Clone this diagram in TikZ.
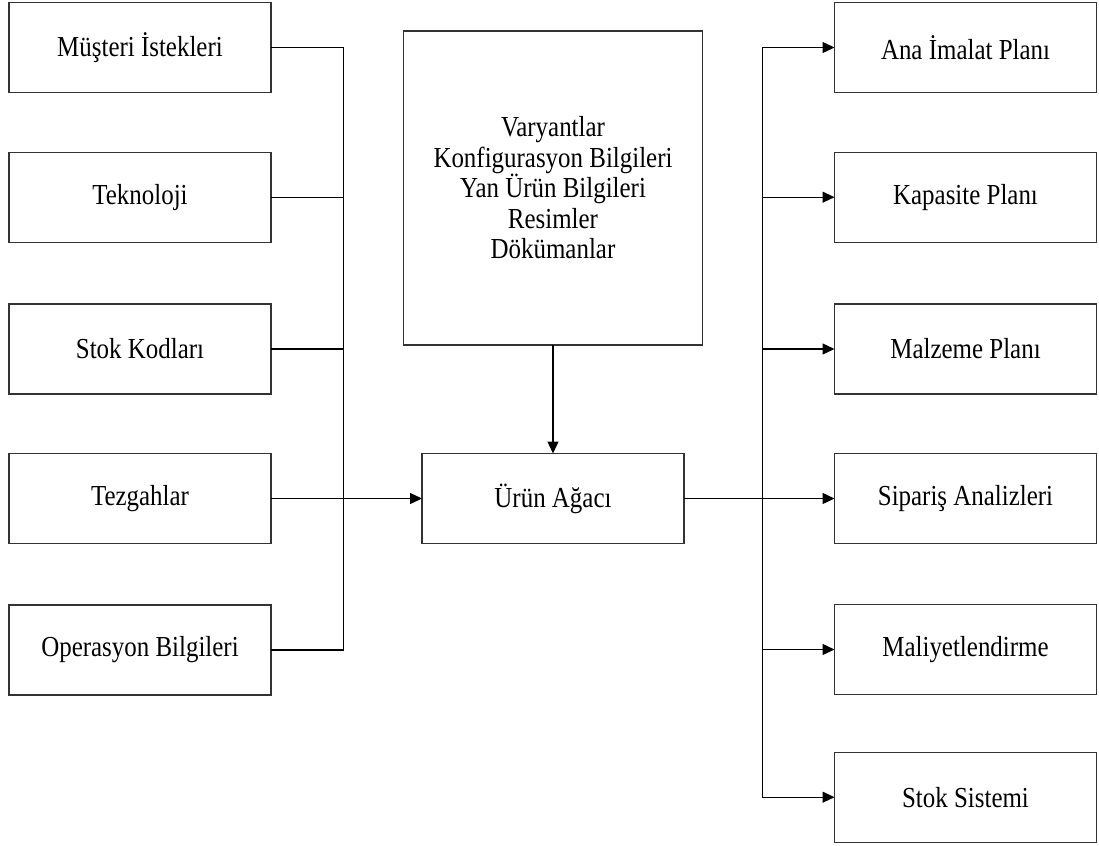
\documentclass[tikz,border=0pt]{standalone}
\usepackage{fontspec}
\setmainfont{Liberation Serif}[FakeStretch=0.86]
\usetikzlibrary{arrows.meta}
\begin{document}
\begin{tikzpicture}[x=1pt,y=-1pt,
  box/.style={draw=black!80, line width=1.3pt, minimum width=262pt, minimum height=90pt,
              inner sep=0pt, outer sep=0pt, align=center,
              font=\fontsize{29}{30.5}\selectfont},
  link/.style={line width=1.3pt, black},
  arr/.style={link, -{Triangle[length=12pt,width=11pt]}}]
  \useasboundingbox (0,0) rectangle (1099,845);

  % input boxes (left column)
  \node[box] (m) at (140,47.5)  {Müşteri İstekleri};
  \node[box] (t) at (140,197.5) {Teknoloji};
  \node[box] (s) at (140,349)   {Stok Kodları};
  \node[box] (z) at (140,498.5) {Tezgahlar};
  \node[box] (o) at (140,650)   {Operasyon Bilgileri};

  % product data and product tree
  \node[box, minimum width=299.5pt, minimum height=314pt] (v) at (553,188)
    {Varyantlar\\Konfigurasyon Bilgileri\\Yan Ürün Bilgileri\\Resimler\\Dökümanlar};
  \node[box] (u) at (553,498.5) {Ürün Ağacı};

  % output boxes (right column)
  \node[box] (r1) at (965.5,47.5)  {Ana İmalat Planı};
  \node[box] (r2) at (965.5,197.2) {Kapasite Planı};
  \node[box] (r3) at (965.5,349)   {Malzeme Planı};
  \node[box] (r4) at (965.5,498.5) {Sipariş Analizleri};
  \node[box] (r5) at (965.5,649.5) {Maliyetlendirme};
  \node[box] (r6) at (965.5,797.2) {Stok Sistemi};

  % collector buses
  \coordinate (jl) at (343.5,498.5);
  \coordinate (jr) at (762.7,498.5);

  % inputs into the product tree
  \draw[link] (m.east) -| (jl);
  \draw[link] (o.east) -| (jl);
  \draw[link] (t.east) -- (t.east -| jl);
  \draw[link] (s.east) -- (s.east -| jl);
  \draw[arr] (z.east) -- (u.west);
  \draw[arr] (v.south) -- (u.north);

  % product tree to outputs
  \draw[link] (u.east) -- (jr);
  \foreach \n in {r1,r2,r3,r5,r6}
    \draw[arr] (jr) |- (\n.west);
  \draw[arr] (jr) -- (r4.west);
\end{tikzpicture}
\end{document}
